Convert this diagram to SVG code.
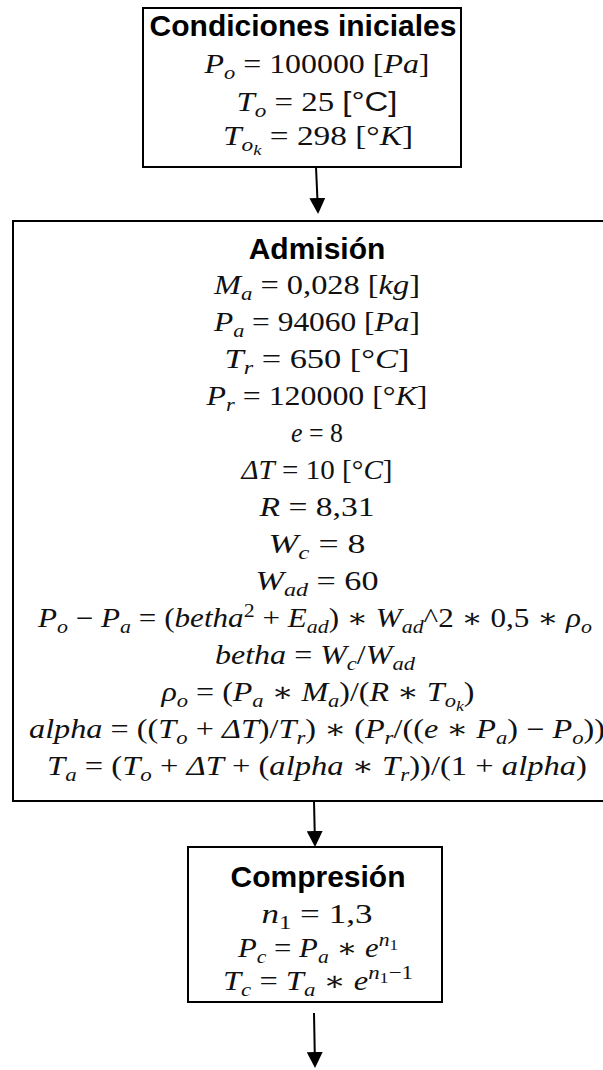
<svg xmlns="http://www.w3.org/2000/svg" width="603" height="1070" viewBox="0 0 603 1070">
<defs>
<style>
.box{fill:#fff;stroke:#000;stroke-width:2}
.title{font-family:"Liberation Sans",Arial,sans-serif;font-weight:bold;font-size:30px;text-anchor:middle;fill:#000}
.m{font-family:"Liberation Serif","DejaVu Serif",serif;font-size:27px;text-anchor:middle;fill:#111}
.i{font-style:italic}
.s{font-size:19px}
.ss{font-size:15px}
.sans{font-family:"Liberation Sans",Arial,sans-serif;font-style:normal}
.conn{stroke:#000;stroke-width:2;fill:none;marker-end:url(#arr)}
</style>
<marker id="arr" viewBox="0 0 16 16" markerWidth="16" markerHeight="16" refX="14" refY="8" orient="auto" markerUnits="userSpaceOnUse">
<path d="M0,0 L16,8 L0,16 z" fill="#000"/>
</marker>
</defs>
<g id="connectors">
<line class="conn" x1="316" y1="167" x2="318" y2="212"/>
<line class="conn" x1="314" y1="801" x2="315" y2="845"/>
<line class="conn" x1="314" y1="1013" x2="315" y2="1066"/>
</g>
<g id="condiciones">
<rect class="box" x="143" y="8" width="318" height="159"/>
<text class="title" x="303" y="36">Condiciones iniciales</text>
<text class="m" x="317" y="73" textLength="225" lengthAdjust="spacingAndGlyphs"><tspan class="i">P</tspan><tspan class="s i" dy="6">o</tspan><tspan dy="-6"> = 100000 [</tspan><tspan class="i">Pa</tspan>]</text>
<text class="m" x="317" y="111" textLength="161" lengthAdjust="spacingAndGlyphs"><tspan class="i">T</tspan><tspan class="s i" dy="6">o</tspan><tspan dy="-6"> = 25 </tspan><tspan class="sans">[°C]</tspan></text>
<text class="m" x="318" y="145" textLength="190" lengthAdjust="spacingAndGlyphs"><tspan class="i">T</tspan><tspan class="s i" dy="6">o</tspan><tspan class="ss i" dy="4">k</tspan><tspan dy="-10"> = 298 [°</tspan><tspan class="i">K</tspan>]</text>
</g>
<g id="admision">
<rect class="box" x="13" y="221" width="600" height="580"/>
<text class="title" x="317" y="259">Admisión</text>
<text class="m" x="317" y="294" textLength="206" lengthAdjust="spacingAndGlyphs"><tspan class="i">M</tspan><tspan class="s i" dy="6">a</tspan><tspan dy="-6"> = 0,028 [</tspan><tspan class="i">kg</tspan>]</text>
<text class="m" x="317" y="331" textLength="206" lengthAdjust="spacingAndGlyphs"><tspan class="i">P</tspan><tspan class="s i" dy="6">a</tspan><tspan dy="-6"> = 94060 [</tspan><tspan class="i">Pa</tspan>]</text>
<text class="m" x="317" y="368" textLength="185" lengthAdjust="spacingAndGlyphs"><tspan class="i">T</tspan><tspan class="s i" dy="6">r</tspan><tspan dy="-6"> = 650 [°</tspan><tspan class="i">C</tspan>]</text>
<text class="m" x="317" y="405" textLength="221" lengthAdjust="spacingAndGlyphs"><tspan class="i">P</tspan><tspan class="s i" dy="6">r</tspan><tspan dy="-6"> = 120000 [°</tspan><tspan class="i">K</tspan>]</text>
<text class="m" x="317" y="442" textLength="52" lengthAdjust="spacingAndGlyphs"><tspan class="i">e</tspan> = 8</text>
<text class="m" x="317" y="479" textLength="151" lengthAdjust="spacingAndGlyphs"><tspan class="i">ΔT</tspan> = 10 [°<tspan class="i">C</tspan>]</text>
<text class="m" x="317" y="516" textLength="115" lengthAdjust="spacingAndGlyphs"><tspan class="i">R</tspan> = 8,31</text>
<text class="m" x="317" y="553" textLength="97" lengthAdjust="spacingAndGlyphs"><tspan class="i">W</tspan><tspan class="s i" dy="6">c</tspan><tspan dy="-6"> = 8</tspan></text>
<text class="m" x="317" y="590" textLength="123" lengthAdjust="spacingAndGlyphs"><tspan class="i">W</tspan><tspan class="s i" dy="6">ad</tspan><tspan dy="-6"> = 60</tspan></text>
<text class="m" x="315" y="627" textLength="554" lengthAdjust="spacingAndGlyphs"><tspan class="i">P</tspan><tspan class="s i" dy="6">o</tspan><tspan dy="-6"> − </tspan><tspan class="i">P</tspan><tspan class="s i" dy="6">a</tspan><tspan dy="-6"> = (</tspan><tspan class="i">betha</tspan><tspan class="s" dy="-10">2</tspan><tspan dy="10"> + </tspan><tspan class="i">E</tspan><tspan class="s i" dy="6">ad</tspan><tspan dy="-6">) ∗ </tspan><tspan class="i">W</tspan><tspan class="s i" dy="6">ad</tspan><tspan dy="-6">^2 ∗ 0,5 ∗ </tspan><tspan class="i">ρ</tspan><tspan class="s i" dy="6">o</tspan></text>
<text class="m" x="315" y="664" textLength="200" lengthAdjust="spacingAndGlyphs"><tspan class="i">betha</tspan> = <tspan class="i">W</tspan><tspan class="s i" dy="6">c</tspan><tspan dy="-6">/</tspan><tspan class="i">W</tspan><tspan class="s i" dy="6">ad</tspan></text>
<text class="m" x="318" y="701" textLength="313" lengthAdjust="spacingAndGlyphs"><tspan class="i">ρ</tspan><tspan class="s i" dy="6">o</tspan><tspan dy="-6"> = (</tspan><tspan class="i">P</tspan><tspan class="s i" dy="6">a</tspan><tspan dy="-6"> ∗ </tspan><tspan class="i">M</tspan><tspan class="s i" dy="6">a</tspan><tspan dy="-6">)/(</tspan><tspan class="i">R</tspan> ∗ <tspan class="i">T</tspan><tspan class="s i" dy="6">o</tspan><tspan class="ss i" dy="4">k</tspan><tspan dy="-10">)</tspan></text>
<text class="m" x="317" y="738" textLength="576" lengthAdjust="spacingAndGlyphs"><tspan class="i">alpha</tspan> = ((<tspan class="i">T</tspan><tspan class="s i" dy="6">o</tspan><tspan dy="-6"> + </tspan><tspan class="i">ΔT</tspan>)/<tspan class="i">T</tspan><tspan class="s i" dy="6">r</tspan><tspan dy="-6">) ∗ (</tspan><tspan class="i">P</tspan><tspan class="s i" dy="6">r</tspan><tspan dy="-6">/((</tspan><tspan class="i">e</tspan> ∗ <tspan class="i">P</tspan><tspan class="s i" dy="6">a</tspan><tspan dy="-6">) − </tspan><tspan class="i">P</tspan><tspan class="s i" dy="6">o</tspan><tspan dy="-6">))</tspan></text>
<text class="m" x="317" y="775" textLength="540" lengthAdjust="spacingAndGlyphs"><tspan class="i">T</tspan><tspan class="s i" dy="6">a</tspan><tspan dy="-6"> = (</tspan><tspan class="i">T</tspan><tspan class="s i" dy="6">o</tspan><tspan dy="-6"> + </tspan><tspan class="i">ΔT</tspan> + (<tspan class="i">alpha</tspan> ∗ <tspan class="i">T</tspan><tspan class="s i" dy="6">r</tspan><tspan dy="-6">))/(1 + </tspan><tspan class="i">alpha</tspan>)</text>
</g>
<g id="compresion">
<rect class="box" x="188" y="847" width="254" height="155"/>
<text class="title" x="318" y="887">Compresión</text>
<text class="m" x="317" y="923" textLength="111" lengthAdjust="spacingAndGlyphs"><tspan class="i">n</tspan><tspan class="s" dy="6">1</tspan><tspan dy="-6"> =  1,3</tspan></text>
<text class="m" x="318" y="957" textLength="160" lengthAdjust="spacingAndGlyphs"><tspan class="i">P</tspan><tspan class="s i" dy="6">c</tspan><tspan dy="-6"> = </tspan><tspan class="i">P</tspan><tspan class="s i" dy="6">a</tspan><tspan dy="-6"> ∗ </tspan><tspan class="i">e</tspan><tspan class="s i" dy="-11">n</tspan><tspan class="ss" dy="4">1</tspan></text>
<text class="m" x="318" y="990" textLength="190" lengthAdjust="spacingAndGlyphs"><tspan class="i">T</tspan><tspan class="s i" dy="6">c</tspan><tspan dy="-6"> = </tspan><tspan class="i">T</tspan><tspan class="s i" dy="6">a</tspan><tspan dy="-6"> ∗ </tspan><tspan class="i">e</tspan><tspan class="s i" dy="-11">n</tspan><tspan class="ss" dy="4">1</tspan><tspan class="s" dy="-4">−1</tspan></text>
</g>
</svg>
